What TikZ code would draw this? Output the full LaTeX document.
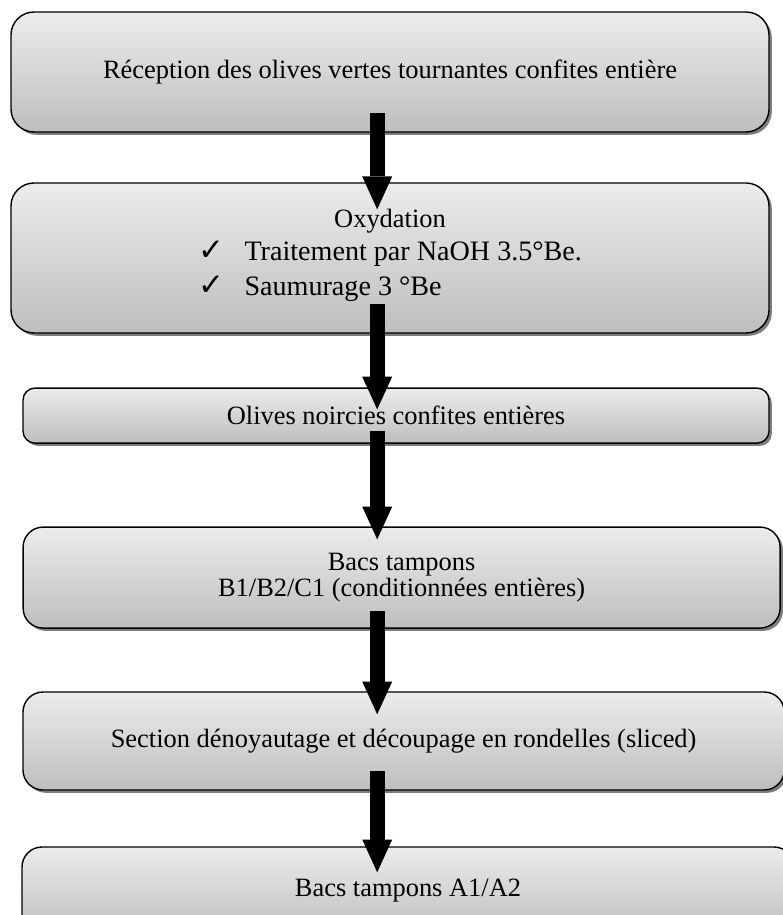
\documentclass[tikz,border=0pt]{standalone}
\usepackage{amsmath}
\usepackage{fontspec}
\setmainfont{Liberation Serif}
\newfontfamily\tickfont{DejaVu Sans}
\usepackage{tikz}
\usetikzlibrary{arrows.meta,shadows}

\definecolor{boxtop}{RGB}{236,236,236}
\definecolor{boxbot}{RGB}{190,190,190}
\definecolor{shadowgray}{RGB}{125,125,125}

\newcommand{\tick}{\makebox[33pt][l]{\tickfont\fontsize{22}{22}\selectfont ✓}}

\begin{document}
\begin{tikzpicture}[
  stepbox/.style={draw=black,line width=1pt,top color=boxtop,bottom color=boxbot,
    drop shadow={shadow xshift=0.07cm,shadow yshift=-0.07cm,fill=shadowgray,opacity=1},
    align=center,inner sep=0pt,font=\fontsize{18.8}{18}\selectfont},
  flow/.style={line width=0.375cm,-{Triangle[width=0.75cm,length=0.82cm,line width=0pt]}}
  ]
  %\draw[step=1cm,gray,very thin] (0,0) grid (19.55,-22.875);
  \useasboundingbox (0,0) rectangle (19.55,-22.875);

  \coordinate (ax) at (9.43,0);

  %box 1
  \node[stepbox,rounded corners=0.575cm,minimum width=18.95cm,minimum height=3cm] (recep) at (9.75,-1.8)
    {Réception des olives vertes tournantes confites entière};

  %box 2
  \node[stepbox,rounded corners=0.575cm,minimum width=18.95cm,minimum height=3.75cm,
    font=\fontsize{18.8}{23.5}\selectfont] (oxyd) at (9.75,-6.45)
    {Oxydation\\
     {\fontsize{20}{25}\selectfont\begin{tabular}[t]{@{}l@{}}
       \tick Traitement par NaOH 3.5°Be.\\
       \tick Saumurage 3 °Be
     \end{tabular}}};

  %box 3
  \node[stepbox,rounded corners=0.3cm,minimum width=18.65cm,minimum height=1.375cm] (noirc) at (9.9,-10.39)
    {Olives noircies confites entières};

  %box 4
  \node[stepbox,rounded corners=0.5cm,minimum width=18.925cm,minimum height=2.525cm] (bacsb) at (10.04,-14.44)
    {Bacs tampons\\B1/B2/C1 (conditionnées entières)};

  %box 5
  \node[stepbox,rounded corners=0.5cm,minimum width=19.03cm,minimum height=2.45cm] (section) at (10.09,-18.525)
    {Section dénoyautage et découpage en rondelles (sliced)};

  %box 6
  \node[stepbox,rounded corners=0.5cm,minimum width=19.3cm,minimum height=2.2cm] (bacsa) at (10.2,-22.275)
    {Bacs tampons A1/A2};

  % arrows
  \draw[flow] ([yshift=0.5cm]recep.south -| ax) -- ([yshift=-0.675cm]oxyd.north -| ax);
  \draw[flow] ([yshift=0.75cm]oxyd.south -| ax) -- ([yshift=-0.55cm]noirc.north -| ax);
  \draw[flow] ([yshift=0.325cm]noirc.south -| ax) -- ([yshift=-0.325cm]bacsb.north -| ax);
  \draw[flow] ([yshift=0.45cm]bacsb.south -| ax) -- ([yshift=-0.575cm]section.north -| ax);
  \draw[flow] ([yshift=0.5cm]section.south -| ax) -- ([yshift=-0.65cm]bacsa.north -| ax);

\end{tikzpicture}
\end{document}
